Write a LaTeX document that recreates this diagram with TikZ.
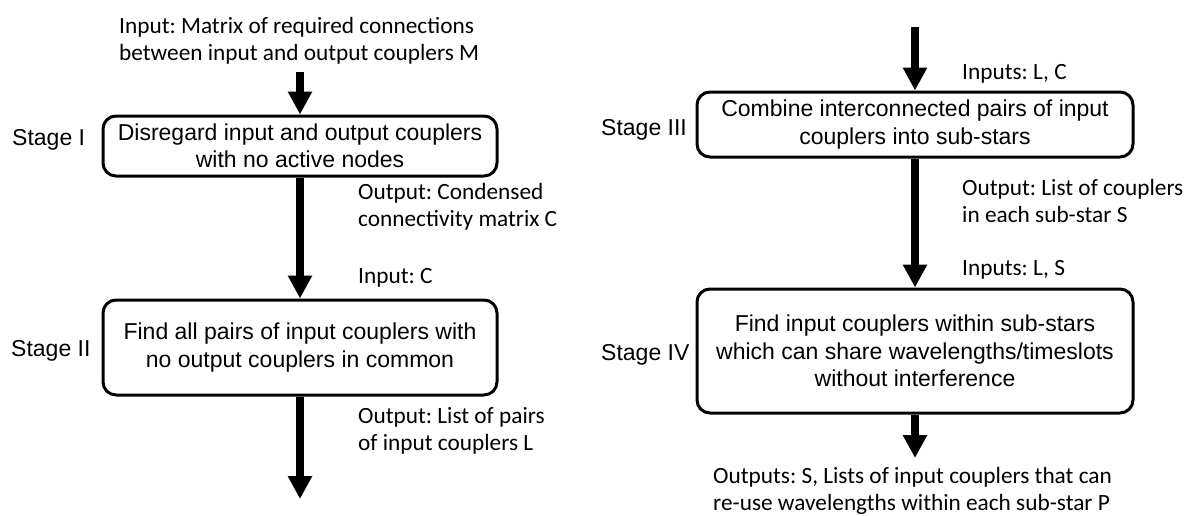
\documentclass[tikz,border=0pt]{standalone}
\usepackage{fontspec}
\setmainfont{Liberation Sans}
\newfontfamily\calfont{Carlito}
\usetikzlibrary{arrows.meta}
\frenchspacing
\begin{document}
\begin{tikzpicture}[x=1pt,y=-1pt,
  stagebox/.style={draw=black, line width=3pt, rounded corners=13pt, align=center,
    font=\fontsize{23}{27.5}\selectfont, inner sep=0pt},
  flow/.style={line width=8pt, -{Triangle[width=23pt,length=23pt]}},
  note/.style={font=\calfont\fontsize{23.3}{27}\selectfont, align=left, anchor=base west, inner sep=0pt},
  stagelbl/.style={font=\fontsize{23}{27.5}\selectfont, anchor=base west, inner sep=0pt}]
\useasboundingbox (0,0) rectangle (1189,515);

% boxes
\node[stagebox, minimum width=394pt, minimum height=60pt] (s1) at (300,146)
  {Disregard input and output couplers\\with no active nodes};
\node[stagebox, minimum width=394pt, minimum height=95pt] (s2) at (300,347.5)
  {Find all pairs of input couplers with\\no output couplers in common};
\node[stagebox, minimum width=436pt, minimum height=65pt] (s3) at (915,124.5)
  {Combine interconnected pairs of input\\couplers into sub-stars};
\node[stagebox, minimum width=436pt, minimum height=124pt] (s4) at (915,351)
  {Find input couplers within sub-stars\\which can share wavelengths/timeslots\\without interference};

% stage labels
\node[stagelbl] (l1) at (12,145) {Stage I};
\node[stagelbl] (l2) at (11,356) {Stage II};
\node[stagelbl] (l3) at (601,135) {Stage III};
\node[stagelbl] (l4) at (601,360) {Stage IV};

% notes (anchor = baseline of last line)
\node[note] (n1) at (119,60) {Input: Matrix of required connections\\between input and output couplers M};
\node[note] (n2) at (358,226) {Output: Condensed\\connectivity matrix C};
\node[note] (n3) at (358,283) {Input: C};
\node[note] (n4) at (358,450) {Output: List of pairs\\of input couplers L};
\node[note] (n5) at (962,79) {Inputs: L, C};
\node[note] (n6) at (962,222) {Output: List of couplers\\in each sub-star S};
\node[note] (n7) at (962,275) {Inputs: L, S};
\node[note] (n8) at (713,510) {Outputs: S, Lists of input couplers that can\\re-use wavelengths within each sub-star P};

% connectors
\coordinate (a0) at (300,72);
\coordinate (a3) at (300,499);
\coordinate (b0) at (915,27);
\coordinate (b3) at (915,458);
\draw[flow] (a0) -- (s1.north);
\draw[flow] (s1.south) -- (s2.north);
\draw[flow] (s2.south) -- (a3);
\draw[flow] (b0) -- (s3.north);
\draw[flow] (s3.south) -- (s4.north);
\draw[flow] (s4.south) -- (b3);
\end{tikzpicture}
\end{document}
